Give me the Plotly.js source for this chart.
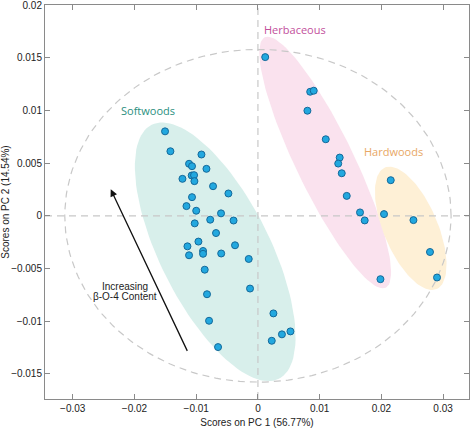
<!DOCTYPE html>
<html><head><meta charset="utf-8">
<script src="https://cdn.plot.ly/plotly-3.0.1.min.js"></script>
<style>html,body{margin:0;padding:0;background:#fff}#chart{width:472px;height:430px}</style>
</head><body><div id="chart"></div>
<script>
// ---- data (PCA scores) ----
const softX = [-0.01505,-0.01418,-0.00915,-0.01116,-0.01068,-0.00834,-0.01223,-0.01073,-0.01035,-0.01029,
  -0.00727,-0.00478,-0.01068,-0.01158,-0.01000,-0.00598,-0.01024,-0.00773,-0.00395,-0.00679,
  -0.00964,-0.01142,-0.00371,-0.00889,-0.00889,-0.01116,-0.00595,-0.00149,-0.00862,-0.00825,
  -0.00128,-0.00792,-0.00646,0.00251,0.00224,0.00389,0.00527];
const softY = [0.00802,0.00613,0.00582,0.00494,0.00471,0.00446,0.00351,0.00383,0.00386,0.00329,
  0.00281,0.00212,0.00177,0.00092,0.00048,0.00023,-0.00072,-0.00037,-0.00045,-0.00164,
  -0.00245,-0.00290,-0.00280,-0.00334,-0.00361,-0.00375,-0.00358,-0.00410,-0.00512,-0.00745,
  -0.00691,-0.00997,-0.01247,-0.00927,-0.01187,-0.01126,-0.01098];
const herbX = [0.00118,0.00847,0.00904,0.00802,0.01099,0.01325,0.01301,0.01358,0.01439,0.01654,0.01730,0.01985];
const herbY = [0.01507,0.01178,0.01188,0.00998,0.00727,0.00553,0.00496,0.00404,0.00189,0.00032,-0.00044,-0.00602];
const hardX = [0.02152,0.02043,0.02520,0.02788,0.02902];
const hardY = [0.00338,0.00016,-0.00041,-0.00344,-0.00586];

const groupNames = ['Softwoods','Herbaceous','Hardwoods'];
// group ellipse: centre (data), semi-axes (screen px), tilt (deg, screen)
const ellCX = [-0.00692, 0.01090, 0.02476];
const ellCY = [-0.00342, 0.00506, -0.00119];
const ellA  = [142, 139, 66];
const ellB  = [55, 29, 27];
const ellAng = [63.4, 64.2, 67];
// Hotelling limit ellipse semi-axes
const limitA = 0.0313, limitB = 0.0158;

const xTickVals = [-0.03,-0.02,-0.01,0,0.01,0.02,0.03];
const xTickText = ['\u22120.03','\u22120.02','\u22120.01','0','0.01','0.02','0.03'];
const yTickVals = [0.02,0.015,0.01,0.005,0,-0.005,-0.01,-0.015];
const yTickText = ['0.02','0.015','0.01','0.005','0','\u22120.005','\u22120.01','\u22120.015'];
const xTitle = 'Scores on PC 1 (56.77%)';
const yTitle = 'Scores on PC 2 (14.54%)';
const arrowText = ['Increasing','\u03b2-O-4 Content'];

// ---- layout constants ----
const W = 472, H = 430;
const M = {l:45, r:3, t:5, b:31};
const xRange = [-0.0345, 0.0342];
const yRange = [-0.0174, 0.02002];
const pxX = (W - M.l - M.r) / (xRange[1] - xRange[0]);
const pxY = (H - M.t - M.b) / (yRange[1] - yRange[0]);

const fillCols = ['rgb(216,239,235)','rgb(250,226,238)','rgb(254,240,214)'];
const labelCols = ['#2b8f80','#c24f9c','#e8a765'];
const dashCol = '#c8c8c8';

function ellipsePts(i){
  const xs=[], ys=[]; const th = ellAng[i]*Math.PI/180;
  for(let k=0;k<=120;k++){
    const t = 2*Math.PI*k/120;
    const dx = ellA[i]*Math.cos(t)*Math.cos(th) - ellB[i]*Math.sin(t)*Math.sin(th);
    const dy = ellA[i]*Math.cos(t)*Math.sin(th) + ellB[i]*Math.sin(t)*Math.cos(th);
    xs.push(ellCX[i] + dx/pxX); ys.push(ellCY[i] - dy/pxY);
  }
  return {xs, ys};
}

const traces = [];
for(let i=0;i<3;i++){
  const e = ellipsePts(i);
  traces.push({x:e.xs, y:e.ys, mode:'lines', fill:'toself', fillcolor:fillCols[i],
    line:{width:0}, hoverinfo:'skip', showlegend:false});
}
// limit ellipse
const lx=[], ly=[];
for(let k=0;k<=200;k++){ const t=2*Math.PI*k/200; lx.push(limitA*Math.cos(t)); ly.push(limitB*Math.sin(t)); }
const dashLine = {color:dashCol, width:1.2, dash:'7px,5px'};
traces.push({x:lx, y:ly, mode:'lines', line:dashLine, hoverinfo:'skip', showlegend:false});
traces.push({x:[0,0], y:yRange, mode:'lines', line:dashLine, hoverinfo:'skip', showlegend:false});
traces.push({x:xRange, y:[0,0], mode:'lines', line:dashLine, hoverinfo:'skip', showlegend:false});

const marker = {size:7, color:'#22a8df', line:{color:'#14699a', width:1}};
[[softX,softY],[herbX,herbY],[hardX,hardY]].forEach((d,i)=>{
  traces.push({x:d[0], y:d[1], mode:'markers', marker:marker, name:groupNames[i], showlegend:false});
});

const tickFont = {family:'Liberation Sans, Arial, sans-serif', size:10, color:'#222'};
const axisBase = {showgrid:false, zeroline:false, showline:true, linecolor:'#8a8a8a', linewidth:1,
  mirror:'ticks', ticks:'inside', ticklen:5, tickcolor:'#8a8a8a', tickfont:tickFont, fixedrange:true,
  ticklabeloverflow:'allow'};

const layout = {
  width:W, height:H, margin:M, paper_bgcolor:'#fff', plot_bgcolor:'#fff', showlegend:false,
  xaxis: Object.assign({}, axisBase, {range:xRange, tickmode:'array', tickvals:xTickVals, ticktext:xTickText,
    title:{text:xTitle, font:tickFont, standoff:5}, automargin:false}),
  yaxis: Object.assign({}, axisBase, {range:yRange, tickmode:'array', tickvals:yTickVals, ticktext:yTickText,
    title:{text:yTitle, font:tickFont, standoff:4}, automargin:false}),
  annotations: [
    {x:-0.01774, y:0.01001, text:groupNames[0], showarrow:false, font:{family:'Open Sans, sans-serif', size:11, color:labelCols[0]}},
    {x:0.00593, y:0.01769, text:groupNames[1], showarrow:false, font:{family:'Open Sans, sans-serif', size:11, color:labelCols[1]}},
    {x:0.02200, y:0.00608, text:groupNames[2], showarrow:false, font:{family:'Open Sans, sans-serif', size:11, color:labelCols[2]}},
    {x:-0.02385, y:0.00251, ax:-0.01133, ay:-0.01297, axref:'x', ayref:'y', text:'', showarrow:true,
      arrowhead:2, arrowsize:1.1, arrowwidth:1.3, arrowcolor:'#111'},
    {x:-0.02157, y:-0.00669, text:arrowText[0], showarrow:false, font:{family:'Liberation Sans, Arial, sans-serif', size:10, color:'#222'}},
    {x:-0.02157, y:-0.00770, text:arrowText[1], showarrow:false, font:{family:'Liberation Sans, Arial, sans-serif', size:10, color:'#222'}}
  ]
};
Plotly.newPlot('chart', traces, layout, {staticPlot:true, displayModeBar:false});
</script></body></html>
